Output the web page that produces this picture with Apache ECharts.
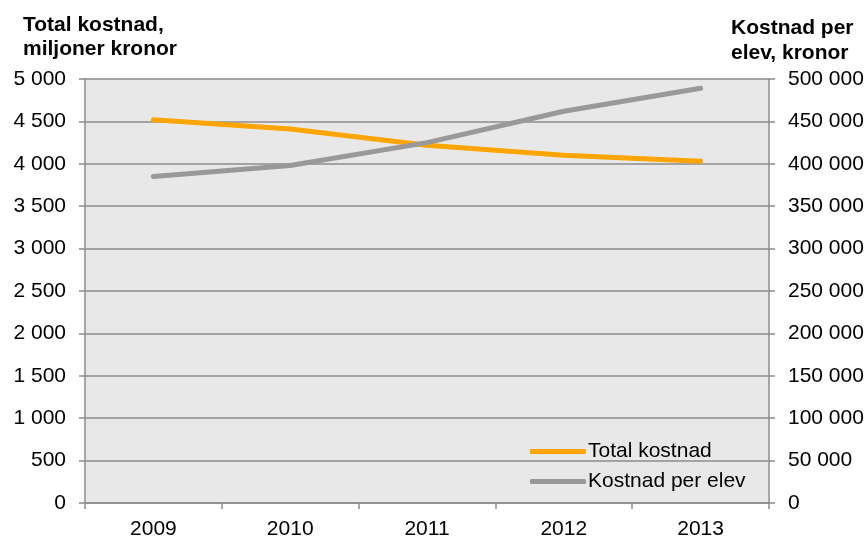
<!DOCTYPE html>
<html>
<head>
<meta charset="utf-8">
<script src="https://cdn.jsdelivr.net/npm/echarts@6/dist/echarts.min.js"></script>
<style>
  html, body { margin: 0; padding: 0; background: #fff; }
  #chart { width: 867px; height: 536px; }
</style>
</head>
<body>
<div id="chart"></div>
<script>
// Chart data
const years = ['2009', '2010', '2011', '2012', '2013']
const totalKostnad = [4520, 4410, 4220, 4100, 4030]        // miljoner kronor
const kostnadPerElev = [385000, 398000, 425000, 462000, 489000] // kronor

const FONT = '"Liberation Sans", Arial, sans-serif'
const axisGrey = '#8c8c8c'
const FS = 21

// "5 000" style thousand separator
function fmt(v) {
  return String(v).replace(/\B(?=(\d{3})+(?!\d))/g, ' ')
}

const chart = echarts.init(document.getElementById('chart'))

chart.setOption({
  animation: false,
  textStyle: { fontFamily: FONT },
  graphic: [
    {
      type: 'text', left: 23, top: 13,
      style: {
        text: 'Total kostnad,\nmiljoner kronor',
        font: 'bold 21px ' + FONT, fill: '#000', lineHeight: 24
      }
    },
    {
      type: 'text', left: 731, top: 16,
      style: {
        text: 'Kostnad per\nelev, kronor',
        font: 'bold 21px ' + FONT, fill: '#000', lineHeight: 25
      }
    }
  ],
  grid: {
    left: 85, right: 98, top: 79, bottom: 33,
    outerBoundsMode: 'none', containLabel: false,
    show: true, backgroundColor: '#e8e8e8', borderWidth: 0
  },
  legend: {
    orient: 'vertical',
    left: 530, top: 441, padding: 0,
    itemWidth: 56, itemHeight: 5, itemGap: 9,
    icon: 'roundRect',
    textStyle: { fontSize: FS, color: '#000', padding: [0, 0, 0, -3] },
    data: ['Total kostnad', 'Kostnad per elev']
  },
  xAxis: {
    type: 'category',
    data: years,
    axisLine: { lineStyle: { color: axisGrey, width: 1.5 } },
    axisTick: { show: true, length: 6, lineStyle: { color: axisGrey, width: 1.5 } },
    axisLabel: { color: '#000', fontSize: FS, margin: 16 }
  },
  yAxis: [
    {
      type: 'value', min: 0, max: 5000, interval: 500,
      axisLine: { show: true, lineStyle: { color: axisGrey, width: 1.5 } },
      axisTick: { show: true, length: 6, lineStyle: { color: axisGrey, width: 1.5 } },
      axisLabel: { color: '#000', fontSize: FS, margin: 19, formatter: fmt },
      splitLine: { lineStyle: { color: axisGrey, width: 1.5 } }
    },
    {
      type: 'value', min: 0, max: 500000, interval: 50000,
      axisLine: { show: true, lineStyle: { color: axisGrey, width: 1.5 } },
      axisTick: { show: true, length: 6, lineStyle: { color: axisGrey, width: 1.5 } },
      axisLabel: { color: '#000', fontSize: FS, margin: 19, formatter: fmt },
      splitLine: { show: false }
    }
  ],
  series: [
    {
      name: 'Total kostnad',
      type: 'line',
      data: totalKostnad,
      yAxisIndex: 0,
      symbol: 'none',
      color: '#ffa500',
      lineStyle: { width: 5, color: '#ffa500', cap: 'round' }
    },
    {
      name: 'Kostnad per elev',
      type: 'line',
      data: kostnadPerElev,
      yAxisIndex: 1,
      symbol: 'none',
      color: '#999999',
      lineStyle: { width: 5, color: '#999999', cap: 'round' }
    }
  ]
})
</script>
</body>
</html>
